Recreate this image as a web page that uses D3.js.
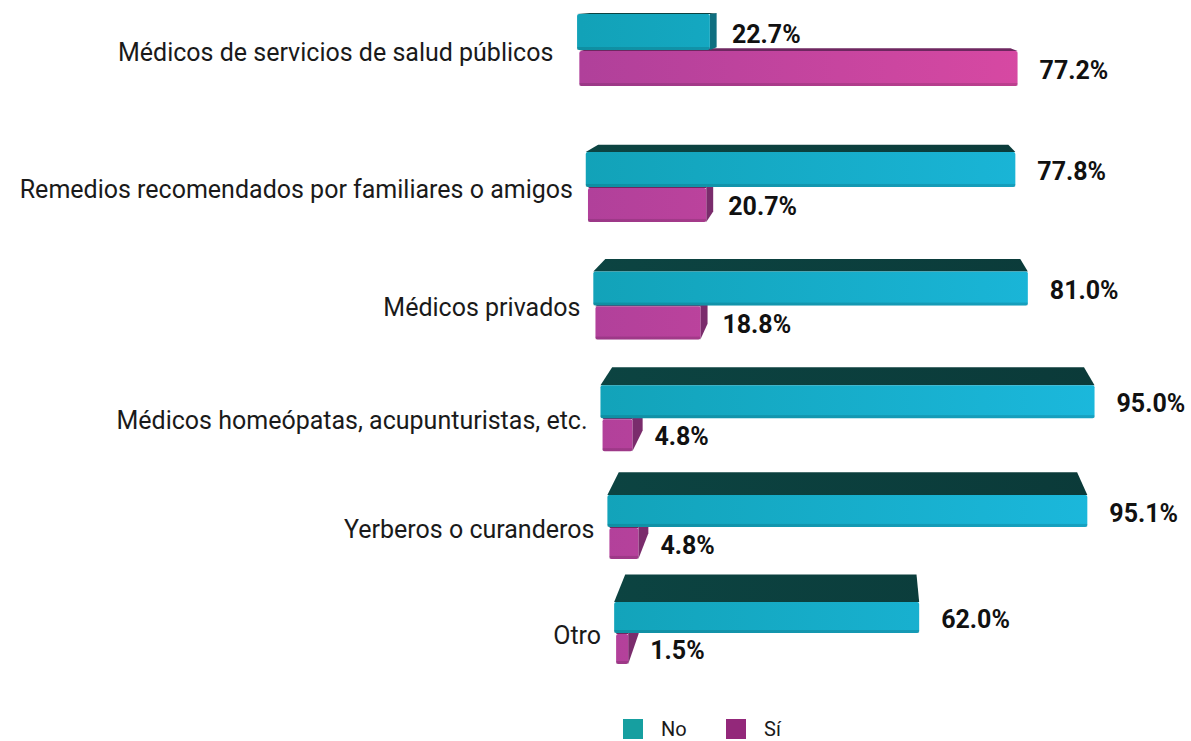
<!DOCTYPE html>
<html>
<head>
<meta charset="utf-8">
<script src="https://cdn.jsdelivr.net/npm/d3@7"></script>
<style>
	body { margin: 0; background: #fff; }
	text { font-family: Roboto, "DejaVu Sans", sans-serif; }
</style>
</head>
<body>
<div id="chart"></div>
<script>
var categories = [
	"Médicos de servicios de salud públicos",
	"Remedios recomendados por familiares o amigos",
	"Médicos privados",
	"Médicos homeópatas, acupunturistas, etc.",
	"Yerberos o curanderos",
	"Otro"
];
var valuesNo = [22.7, 77.8, 81.0, 95.0, 95.1, 62.0];
var valuesSi = [77.2, 20.7, 18.8, 4.8, 4.8, 1.5];
var seriesNames = ["No", "Sí"];

var width = 1191,
	height = 741;

var svg = d3.select("#chart").append("svg")
		.attr("width", width)
		.attr("height", height);

/// FAKE 3D PERSPECTIVE ///
// vanishing point + depth factor for the top / side faces
var vp = [860, -10],
	depth = 0.045;

var last = categories.length - 1;
// row boundary between the two bars (rows get closer as we go down)
var yMid = d3.scalePow().exponent(0.9).domain([0, last]).range([50, 633]);
var barH = d3.scaleLinear().domain([0, last]).range([36, 31]);
// left edge slants to the right going down
var xOrigin = d3.scaleLinear().domain([13, 663]).range([577, 618]);
// pixels for the value axis shrink going down
var span = d3.scaleLinear().domain([0, last]).range([566, 489]);

function back(p) {
	return [p[0] + depth * (vp[0] - p[0]), p[1] - depth * (p[1] - vp[1])];
}

var defs = svg.append("defs");

function gradient(id, c1, c2) {
	var g = defs.append("linearGradient")
		.attr("id", id)
		.attr("gradientUnits", "userSpaceOnUse")
		.attr("x1", 580).attr("x2", 1100)
		.attr("y1", 0).attr("y2", 0);
	g.append("stop").attr("offset", "0%").attr("stop-color", c1);
	g.append("stop").attr("offset", "100%").attr("stop-color", c2);
}
gradient("gNo", "#12a2b8", "#1bb8dc");
gradient("gSi", "#b0409a", "#de4aa4");
gradient("gNoTop", "#0c4442", "#0b3a39");

var palette = {
	No: { front: "url(#gNo)", top: "url(#gNoTop)", side: "#0f6f80" },
	"Sí": { front: "url(#gSi)", top: "#6e2760", side: "#7a2c6c" }
};

var legendColor = d3.scaleOrdinal()
	.domain(seriesNames)
	.range(["#169fa0", "#93287a"]);

var line = d3.line();

function drawBox(g, x0, x1, yT, yB, col) {
	// right side face, only visible left of the vanishing point
	if (x1 < vp[0]) {
		g.append("path")
			.attr("d", line([[x1, yT], [x1, yB], back([x1, yB]), back([x1, yT])]) + "Z")
			.attr("fill", col.side);
	}
	g.append("path")
		.attr("d", line([[x0, yT], [x1, yT], back([x1, yT]), back([x0, yT])]) + "Z")
		.attr("fill", col.top);
	g.append("rect")
		.attr("x", x0)
		.attr("y", yT)
		.attr("width", x1 - x0)
		.attr("height", yB - yT)
		.attr("rx", 2)
		.attr("fill", col.front);
	// soft darker bottom edge
	g.append("rect")
		.attr("x", x0)
		.attr("y", yB - 3)
		.attr("width", x1 - x0)
		.attr("height", 3)
		.attr("fill", "#000")
		.attr("opacity", 0.12);
}

var rows = svg.selectAll("g.row")
	.data(categories)
	.enter()
	.append("g")
	.attr("class", "row");

rows.each(function(cat, i) {
	var g = d3.select(this);
	var mid = yMid(i),
		h = barH(i);
	var yNoTop = mid - h,
		ySiBot = mid + h;

	// bars start a little before 0 like the original chart
	var xNo = d3.scaleLinear().domain([-1, 100])
		.range([xOrigin(yNoTop), xOrigin(yNoTop) + span(i)]);
	var xSi = d3.scaleLinear().domain([-1, 100])
		.range([xOrigin(mid), xOrigin(mid) + span(i)]);

	// Sí bar first, the No bar sits on top of it
	drawBox(g, xSi(-1), xSi(valuesSi[i]), mid + 1, ySiBot, palette["Sí"]);
	drawBox(g, xNo(-1), xNo(valuesNo[i]), yNoTop, mid, palette.No);

	// value labels
	g.append("text")
		.attr("x", xNo(valuesNo[i]) + 22)
		.attr("y", mid - h / 2 + 2)
		.attr("dy", "0.35em")
		.style("font-size", "25px")
		.style("font-weight", "bold")
		.style("fill", "#111")
		.text(valuesNo[i].toFixed(1) + "%");

	g.append("text")
		.attr("x", xSi(valuesSi[i]) + 22)
		.attr("y", mid + h / 2 + 2)
		.attr("dy", "0.35em")
		.style("font-size", "25px")
		.style("font-weight", "bold")
		.style("fill", "#111")
		.text(valuesSi[i].toFixed(1) + "%");

	// category label
	g.append("text")
		.attr("x", xOrigin(mid) - (i == 0 ? 26 : 15))
		.attr("y", mid + 2)
		.attr("dy", "0.35em")
		.attr("text-anchor", "end")
		.style("font-size", "25px")
		.style("fill", "#1a1a1a")
		.text(cat);
});

/// LEGEND ///
var legend = svg.append("g")
	.attr("transform", "translate(623,719)");

var item = legend.selectAll("g")
	.data(seriesNames)
	.enter()
	.append("g")
	.attr("transform", (d, i) => "translate(" + (i * 103) + ",0)");

item.append("rect")
	.attr("width", 20)
	.attr("height", 20)
	.attr("fill", d => legendColor(d));

item.append("text")
	.attr("x", 38)
	.attr("y", 10)
	.attr("dy", "0.35em")
	.style("font-size", "20px")
	.style("fill", "#1a1a1a")
	.text(d => d);
</script>
</body>
</html>
